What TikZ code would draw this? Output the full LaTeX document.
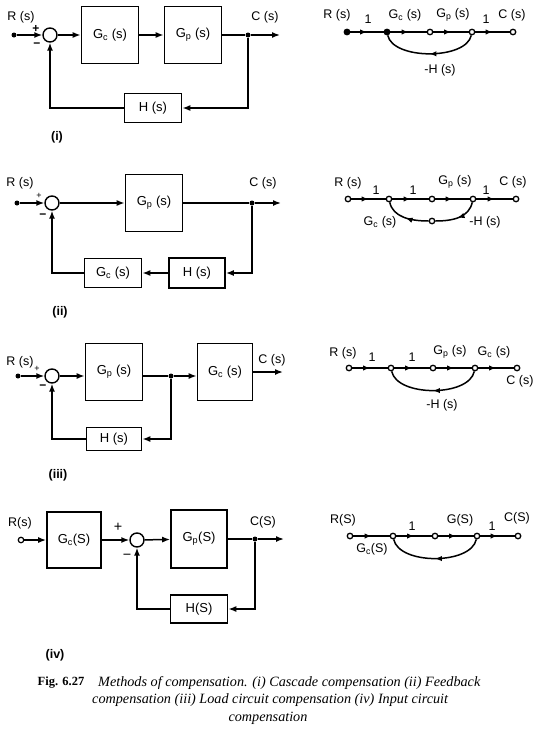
\documentclass[tikz,border=0pt]{standalone}
\usepackage{fontspec}
\setmainfont{Liberation Sans}
\newfontfamily\capfont{Liberation Serif}
\usetikzlibrary{arrows.meta,calc,decorations.markings}
\newcommand{\blockfont}{\fontsize{13}{15}\selectfont}
\newcommand{\labelfont}{\fontsize{12.5}{14}\selectfont}
\newcommand{\capsize}{\fontsize{14.2}{16}\selectfont}
\newcommand{\gs}[1]{G\textsubscript{#1}}
\tikzset{
  block/.style={draw,line width=1.6pt,minimum width=57pt,minimum height=57pt,
    inner sep=0pt,font=\blockfont},
  fbblock/.style={block,minimum height=29pt},
  sumpt/.style={draw,circle,line width=1.4pt,minimum size=14pt,inner sep=0pt},
  dotpt/.style={circle,fill,minimum size=5pt,inner sep=0pt},
  opendot/.style={circle,draw,fill=white,line width=1.2pt,minimum size=5.5pt,inner sep=0pt},
  sfgnode/.style={circle,draw,fill=white,line width=1.3pt,minimum size=5.5pt,inner sep=0pt},
  sfgdot/.style={sfgnode,fill=black},
  wire/.style={line width=1.5pt},
  arrow/.style={-{Latex[length=8pt,width=6pt]},line width=1.5pt},
  sfgbranch/.style={line width=1.5pt,postaction={decorate},
    decoration={markings,mark=at position 0.5 with {\arrow{Latex[length=7pt,width=5.5pt]}}}},
  labelstyle/.style={font=\labelfont,inner sep=1pt},
  signstyle/.style={font=\bfseries\large,inner sep=0pt},
  tagstyle/.style={font=\bfseries\labelfont,inner sep=1pt}
}

\begin{document}
\begin{tikzpicture}[x=1pt,y=-1pt]
  \useasboundingbox (0,0) rectangle (538,736);

  % (i) cascade
  \node[dotpt] (r1) at (14,35) {};
  \node[sumpt] (s1) at (50,35) {};
  \node[block] (gc1) at (110,35) {\gs{c} (s)};
  \node[block] (gp1) at (193,35) {\gs{p} (s)};
  \node[dotpt] (b1) at (248,35) {};
  \coordinate (c1) at (280,35);
  \node[fbblock] (h1) at (153,108) {H (s)};
  \node[labelstyle] (r1l) at (21,17) {R (s)};
  \node[labelstyle] (c1l) at (265,17) {C (s)};
  \node[signstyle] (p1) at (36,29) {+};
  \node[signstyle] (m1) at (37,45) {−};
  \node[tagstyle] (t1) at (57,137) {(i)};
  \draw[arrow] (r1) -- (s1);
  \draw[arrow] (s1) -- (gc1);
  \draw[arrow] (gc1) -- (gp1);
  \draw[wire] (gp1) -- (b1);
  \draw[arrow] (b1) -- (c1);
  \draw[arrow] (b1) |- (h1);
  \draw[arrow] (h1) -| (s1);

  % (ii) feedback
  \node[dotpt] (r2) at (17,203) {};
  \node[sumpt] (s2) at (52,203) {};
  \node[block] (gp2) at (154,203) {\gs{p} (s)};
  \node[dotpt] (b2) at (252,203) {};
  \coordinate (c2) at (281,203);
  \node[fbblock,minimum width=56pt,minimum height=30pt] (h2) at (197,273) {H (s)};
  \node[fbblock,minimum width=57pt,minimum height=29pt] (gc2) at (113,273) {\gs{c} (s)};
  \node[labelstyle] (r2l) at (20,183) {R (s)};
  \node[labelstyle] (c2l) at (263,183) {C (s)};
  \node[signstyle,font=\small] (p2) at (39,196) {+};
  \node[signstyle] (m2) at (43,216) {−};
  \node[tagstyle] (t2) at (60,312) {(ii)};
  \draw[arrow] (r2) -- (s2);
  \draw[arrow] (s2) -- (gp2);
  \draw[wire] (gp2) -- (b2);
  \draw[arrow] (b2) -- (c2);
  \draw[arrow] (b2) |- (h2);
  \draw[arrow] (h2) -- (gc2);
  \draw[arrow] (gc2) -| (s2);

  % (iii) load circuit
  \node[dotpt] (r3) at (18,376) {};
  \node[sumpt] (s3) at (52,376) {};
  \node[block] (gp3) at (114,372) {\gs{p} (s)};
  \node[dotpt] (b3) at (171,376) {};
  \node[block,minimum width=55pt] (gc3) at (225,372) {\gs{c} (s)};
  \coordinate (c3) at (283,372);
  \node[fbblock,minimum width=55pt,minimum height=23pt] (h3) at (114,439) {H (s)};
  \node[labelstyle] (r3l) at (20,362) {R (s)};
  \node[labelstyle] (c3l) at (272,360) {C (s)};
  \node[signstyle,font=\small] (p3) at (37,369) {+};
  \node[signstyle] (m3) at (43,387) {−};
  \node[tagstyle] (t3) at (58,475) {(iii)};
  \draw[arrow] (r3) -- (s3);
  \draw[arrow] (s3) -- (s3 -| gp3.west);
  \draw[wire] (s3 -| gp3.east) -- (b3);
  \draw[arrow] (b3) -- (b3 -| gc3.west);
  \draw[arrow] (gc3) -- (c3);
  \draw[arrow] (b3) |- (h3);
  \draw[arrow] (h3) -| (s3);

  % (iv) input circuit
  \node[opendot] (r4) at (21,540) {};
  \node[block,minimum width=54pt,minimum height=56pt] (gc4) at (74,540) {\gs{c}(S)};
  \node[sumpt] (s4) at (137,540) {};
  \node[block,minimum width=56pt,minimum height=58pt] (gp4) at (199,539) {\gs{p}(S)};
  \node[dotpt] (b4) at (255,539) {};
  \coordinate (c4) at (284,539);
  \node[fbblock,minimum height=28pt] (h4) at (199,609) {H(S)};
  \node[labelstyle] (r4l) at (20,523) {R(s)};
  \node[labelstyle] (c4l) at (263,522) {C(S)};
  \node[signstyle,font=\Large] (p4) at (118,527) {+};
  \node[signstyle,font=\Large] (m4) at (127,557) {−};
  \node[tagstyle] (t4) at (55,655) {(iv)};
  \draw[arrow] (r4) -- (gc4);
  \draw[arrow] (gc4) -- (s4);
  \draw[arrow] (s4) -- (gp4);
  \draw[wire] (gp4) -- (b4);
  \draw[arrow] (b4) -- (c4);
  \draw[arrow] (b4) |- (h4);
  \draw[arrow] (h4) -| (s4);

  % signal flow graphs
  \node[sfgdot] (n11) at (347,32) {};
  \node[sfgdot] (n12) at (387,32) {};
  \node[sfgnode] (n13) at (430,32) {};
  \node[sfgnode] (n14) at (472,32) {};
  \node[sfgnode] (n15) at (513,32) {};
  \draw[sfgbranch] (n11) -- (n12);
  \draw[sfgbranch] (n12) -- (n13);
  \draw[sfgbranch] (n13) -- (n14);
  \draw[sfgbranch] (n14) -- (n15);
  \draw[sfgbranch] (n14) .. controls +(-6,28) and +(6,28) .. (n12);
  \node[labelstyle] (l11) at (337,15) {R (s)};
  \node[labelstyle] (l12) at (368,19) {1};
  \node[labelstyle] (l13) at (405,15) {\gs{c} (s)};
  \node[labelstyle] (l14) at (453,15) {\gs{p} (s)};
  \node[labelstyle] (l15) at (486,19) {1};
  \node[labelstyle] (l16) at (512,15) {C (s)};
  \node[labelstyle] (l17) at (440,70) {-H (s)};

  \node[sfgnode] (n21) at (348,199) {};
  \node[sfgnode] (n22) at (389,199) {};
  \node[sfgnode] (n23) at (432,199) {};
  \node[sfgnode] (n24) at (473,199) {};
  \node[sfgnode] (n25) at (516,199) {};
  \node[sfgnode] (n26) at (432,221) {};
  \draw[sfgbranch] (n21) -- (n22);
  \draw[sfgbranch] (n22) -- (n23);
  \draw[sfgbranch] (n23) -- (n24);
  \draw[sfgbranch] (n24) -- (n25);
  \draw[sfgbranch] (n24) .. controls +(-4,18) and +(22,0) .. (n26);
  \draw[sfgbranch] (n26) .. controls +(-22,0) and +(4,18) .. (n22);
  \node[labelstyle] (l21) at (348,183) {R (s)};
  \node[labelstyle] (l22) at (376,190) {1};
  \node[labelstyle] (l23) at (413,190) {1};
  \node[labelstyle] (l24) at (455,182) {\gs{p} (s)};
  \node[labelstyle] (l25) at (486,190) {1};
  \node[labelstyle] (l26) at (513,182) {C (s)};
  \node[labelstyle] (l27) at (380,222) {\gs{c} (s)};
  \node[labelstyle] (l28) at (485,222) {-H (s)};

  \node[sfgnode] (n31) at (349,368) {};
  \node[sfgnode] (n32) at (391,368) {};
  \node[sfgnode] (n33) at (433,368) {};
  \node[sfgnode] (n34) at (475,368) {};
  \node[sfgnode] (n35) at (517,368) {};
  \draw[sfgbranch] (n31) -- (n32);
  \draw[sfgbranch] (n32) -- (n33);
  \draw[sfgbranch] (n33) -- (n34);
  \draw[sfgbranch] (n34) -- (n35);
  \draw[sfgbranch] (n34) .. controls +(-6,29) and +(6,29) .. (n32);
  \node[labelstyle] (l31) at (343,353) {R (s)};
  \node[labelstyle] (l32) at (372,357) {1};
  \node[labelstyle] (l33) at (412,357) {1};
  \node[labelstyle] (l34) at (450,352) {\gs{p} (s)};
  \node[labelstyle] (l35) at (494,352) {\gs{c} (s)};
  \node[labelstyle] (l36) at (520,381) {C (s)};
  \node[labelstyle] (l37) at (442,405) {-H (s)};

  \node[sfgnode] (n41) at (350,536) {};
  \node[sfgnode] (n42) at (393,536) {};
  \node[sfgnode] (n43) at (435,536) {};
  \node[sfgnode] (n44) at (477,536) {};
  \node[sfgnode] (n45) at (518,536) {};
  \draw[sfgbranch] (n41) -- (n42);
  \draw[sfgbranch] (n42) -- (n43);
  \draw[sfgbranch] (n43) -- (n44);
  \draw[sfgbranch] (n44) -- (n45);
  \draw[sfgbranch] (n44) .. controls +(-6,29) and +(6,29) .. (n42);
  \node[labelstyle] (l41) at (343,520) {R(S)};
  \node[labelstyle] (l42) at (372,549) {\gs{c}(S)};
  \node[labelstyle] (l43) at (412,526) {1};
  \node[labelstyle] (l44) at (460,520) {G(S)};
  \node[labelstyle] (l45) at (492,526) {1};
  \node[labelstyle] (l46) at (517,518) {C(S)};

  % caption
  \node[font=\capfont\bfseries\fontsize{12.5}{14}\selectfont,inner sep=0pt] (fig) at (61,683) {Fig. 6.27};
  \node[font=\capfont\itshape\capsize,inner sep=0pt,anchor=west] (cap1) at (98,683)
    {Methods of compensation. (i) Cascade compensation (ii) Feedback};
  \node[font=\capfont\itshape\capsize,inner sep=0pt,anchor=west] (cap2) at (92,700)
    {compensation (iii) Load circuit compensation (iv) Input circuit};
  \node[font=\capfont\itshape\capsize,inner sep=0pt] (cap3) at (268,718) {compensation};
\end{tikzpicture}
\end{document}
